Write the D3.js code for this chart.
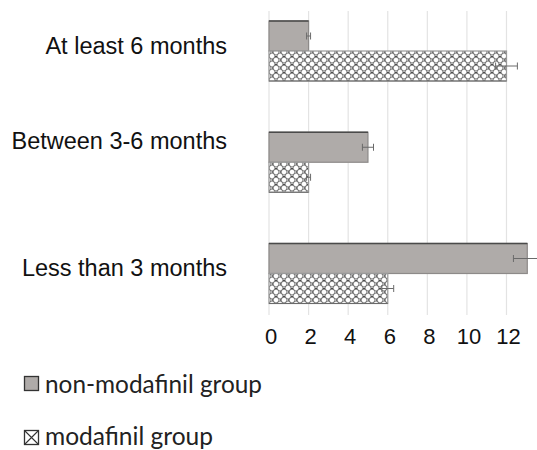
<!DOCTYPE html>
<html><head><meta charset="utf-8">
<script src="https://cdn.jsdelivr.net/npm/d3@7"></script>
<style>body{margin:0;background:#fff}svg{display:block}</style>
</head><body>
<svg id="c" width="537" height="450"></svg>
<script>
const categories = ["At least 6 months", "Between 3-6 months", "Less than 3 months"];
const seriesNames = ["non-modafinil group", "modafinil group"];
const nonModafinil = [2, 5, 13.05];
const nonModafinilErr = [0.1, 0.28, 0.7];
const modafinil = [12, 2, 6];
const modafinilErr = [0.55, 0.1, 0.3];
const xTicks = [0, 2, 4, 6, 8, 10, 12];

// layout constants
const labelDy = [-6, -22, -6];

const svg = d3.select("#c");
const x = d3.scaleLinear().domain([0, 12]).range([269, 506.5]);
const yGroup = d3.scalePoint().domain(categories).range([51, 273.5]);
const ySeries = d3.scaleBand().domain(seriesNames).range([-30, 30]);

const defs = svg.append("defs");
const pat = defs.append("pattern").attr("id", "hatch").attr("patternUnits", "userSpaceOnUse")
  .attr("width", 8).attr("height", 8);
pat.append("rect").attr("width", 8).attr("height", 8).attr("fill", "#fff");
pat.append("circle").attr("cx", 4).attr("cy", 4).attr("r", 3).attr("fill", "none").attr("stroke", "#7a7a7a").attr("stroke-width", 1);
[[0,0],[8,0],[0,8],[8,8]].forEach(([cx,cy]) => pat.append("circle").attr("cx", cx).attr("cy", cy).attr("r", 3).attr("fill", "none").attr("stroke", "#7a7a7a").attr("stroke-width", 1));
pat.append("rect").attr("x", 3.3).attr("y", 0).attr("width", 1.4).attr("height", 1.2).attr("fill", "#222");
pat.append("rect").attr("x", 0).attr("y", 3.4).attr("width", 1.2).attr("height", 1.2).attr("fill", "#444");

// gridlines
svg.append("g").selectAll("line").data(xTicks).join("line")
  .attr("x1", d => x(d)).attr("x2", d => x(d))
  .attr("y1", 11).attr("y2", 315)
  .attr("stroke", "#e3e3e3").attr("stroke-width", 1.2);

const rows = categories.map((c, i) => ({
  c, i,
  vals: [
    {s: seriesNames[0], v: nonModafinil[i], e: nonModafinilErr[i]},
    {s: seriesNames[1], v: modafinil[i], e: modafinilErr[i]}
  ]
}));

const bars = svg.append("g");
rows.forEach(r => {
  r.vals.forEach(d => {
    const y0 = yGroup(r.c) + ySeries(d.s);
    const h = ySeries.bandwidth();
    const isMod = d.s === seriesNames[1];
    bars.append("rect")
      .attr("x", x(0)).attr("y", y0)
      .attr("width", x(d.v) - x(0)).attr("height", h)
      .attr("fill", isMod ? "url(#hatch)" : "#afaba9")
      .attr("stroke", isMod ? "#9a9a9a" : "#8d8a89").attr("stroke-width", 1.2);
    if (!isMod) {
      bars.append("line").attr("x1", x(0)).attr("x2", x(d.v)).attr("y1", y0).attr("y2", y0)
        .attr("stroke", "#4a4a4a").attr("stroke-width", 1.5);
    } else {
      bars.append("line").attr("x1", x(0)).attr("x2", x(d.v)).attr("y1", y0 + h).attr("y2", y0 + h)
        .attr("stroke", "#6a6a6a").attr("stroke-width", 1.2);
    }
    // error bar
    const cy = y0 + h / 2;
    const g = bars.append("g").attr("stroke", "#6a6a6a").attr("stroke-width", 1);
    g.append("line").attr("x1", x(d.v - d.e)).attr("x2", x(d.v + d.e)).attr("y1", cy).attr("y2", cy);
    [d.v - d.e, d.v + d.e].forEach(t => g.append("line").attr("x1", x(t)).attr("x2", x(t)).attr("y1", cy - 3.5).attr("y2", cy + 3.5));
  });
});

// category labels
svg.append("g").selectAll("text").data(categories).join("text")
  .attr("x", 227).attr("y", (d, i) => yGroup(d) + labelDy[i] + 8.5)
  .attr("text-anchor", "end")
  .attr("font-family", "Liberation Sans, Arial, sans-serif").attr("font-size", 23.5)
  .attr("fill", "#111")
  .text(d => d);

// x tick labels
svg.append("g").selectAll("text").data(xTicks).join("text")
  .attr("x", d => x(d) + 2).attr("y", 344)
  .attr("text-anchor", "middle")
  .attr("font-family", "Liberation Sans, Arial, sans-serif").attr("font-size", 22)
  .attr("fill", "#111")
  .text(d => d);

// legend
const leg = svg.append("g");
const legY = [377, 431];
const legTextY = [393, 445];
seriesNames.forEach((s, i) => {
  const g = leg.append("g");
  g.append("rect").attr("x", 24.5).attr("y", legY[i] - 0.5).attr("width", 14).attr("height", 14)
    .attr("fill", i === 0 ? "#afaba9" : "#fff").attr("stroke", "#333").attr("stroke-width", 1.3);
  if (i === 1) {
    g.append("path").attr("d", `M24.5,${legY[i]-0.5}L38.5,${legY[i]+13.5}M38.5,${legY[i]-0.5}L24.5,${legY[i]+13.5}`)
      .attr("stroke", "#333").attr("stroke-width", 1.1);
  }
  g.append("text").attr("x", 45).attr("y", legTextY[i])
    .attr("font-family", "Lato, 'Open Sans', sans-serif").attr("font-size", 24.5)
    .attr("fill", "#222")
    .attr("textLength", i === 0 ? 217 : 168).attr("lengthAdjust", "spacingAndGlyphs")
    .text(s);
});
</script>
</body></html>
